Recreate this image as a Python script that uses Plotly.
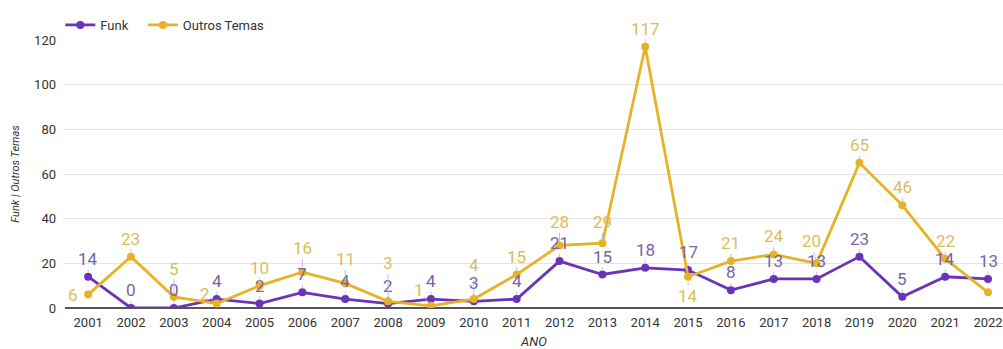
import plotly.graph_objects as go

anos = [str(a) for a in range(2001, 2023)]
funk = [14, 0, 0, 4, 2, 7, 4, 2, 4, 3, 4, 21, 15, 18, 17, 8, 13, 13, 23, 5, 14, 13]
outros = [6, 23, 5, 2, 10, 16, 11, 3, 1, 4, 15, 28, 29, 117, 14, 21, 24, 20, 65, 46, 22, 7]

# label offsets (px) per point; None hides the label, "left" puts it beside the marker
DEFAULT_OFF = (0, -18)
funk_off = {}
outros_off = {"2001": "left", "2003": (0, -28), "2004": (-12, -10), "2006": (0, -24),
              "2007": (0, -24), "2008": (0, -38), "2009": (-12, -16), "2010": (0, -34),
              "2012": (0, -23), "2013": (0, -21), "2015": (0, 19), "2018": (-5, -22),
              "2022": None}

C_FUNK = "#6a33b8"
C_OUT = "#e6b327"
C_FUNK_LBL = "#7664a8"
C_OUT_LBL = "#dbbd58"
FONT = "Roboto, Arial, sans-serif"
TXT = "#333333"

fig = go.Figure()
fig.add_trace(go.Scatter(x=anos, y=funk, name="Funk", mode="lines+markers",
                         line=dict(color=C_FUNK, width=2.8),
                         marker=dict(color=C_FUNK, size=8), legend="legend"))
fig.add_trace(go.Scatter(x=anos, y=outros, name="Outros Temas", mode="lines+markers",
                         line=dict(color=C_OUT, width=2.8),
                         marker=dict(color=C_OUT, size=8), legend="legend2"))

# value labels, placed by category index on the x axis
annotations = []
for vals, offs, col in ((funk, funk_off, C_FUNK_LBL), (outros, outros_off, C_OUT_LBL)):
    for i, (a, v) in enumerate(zip(anos, vals)):
        off = offs.get(a, DEFAULT_OFF)
        if off is None:
            continue
        if off == "left":
            annotations.append(dict(x=i, y=v, xref="x", yref="y", text=str(v),
                                    showarrow=False, xshift=-15,
                                    font=dict(size=17, color=col, family=FONT)))
            continue
        ax, ay = off
        annotations.append(dict(x=i, y=v, xref="x", yref="y", text=str(v),
                                showarrow=True, ax=ax, ay=ay,
                                arrowhead=0, arrowwidth=0.8, arrowcolor="#b4b4cc",
                                standoff=4, borderpad=0,
                                font=dict(size=17, color=col, family=FONT)))

legend_style = dict(orientation="h", xanchor="left", y=1.0, yanchor="bottom",
                    font=dict(size=13, color=TXT), itemwidth=30,
                    bgcolor="rgba(0,0,0,0)")

fig.update_layout(
    width=1003, height=349,
    margin=dict(l=65, r=0, t=40, b=41),
    plot_bgcolor="white", paper_bgcolor="white",
    font=dict(family=FONT, size=13, color=TXT),
    showlegend=True,
    legend=dict(x=-0.005, **legend_style),
    legend2=dict(x=0.083, **legend_style),
    annotations=annotations,
)
fig.update_xaxes(type="category", range=[-0.54, 21.35], showgrid=False,
                 showline=False, ticks="", tickfont=dict(size=13, color=TXT),
                 ticklabelstandoff=5,
                 title=dict(text="<i>ANO</i>", font=dict(size=13, color=TXT), standoff=8))
fig.update_yaxes(range=[0, 120], dtick=20, showgrid=True, gridcolor="#e3e3e3",
                 zeroline=True, zerolinecolor="#555555", zerolinewidth=1.5,
                 tickfont=dict(size=13, color=TXT), ticks="", ticklabelstandoff=8,
                 title=dict(text="<i>Funk | Outros Temas</i>",
                            font=dict(size=11, color=TXT), standoff=12))

fig.write_html("out.html")
